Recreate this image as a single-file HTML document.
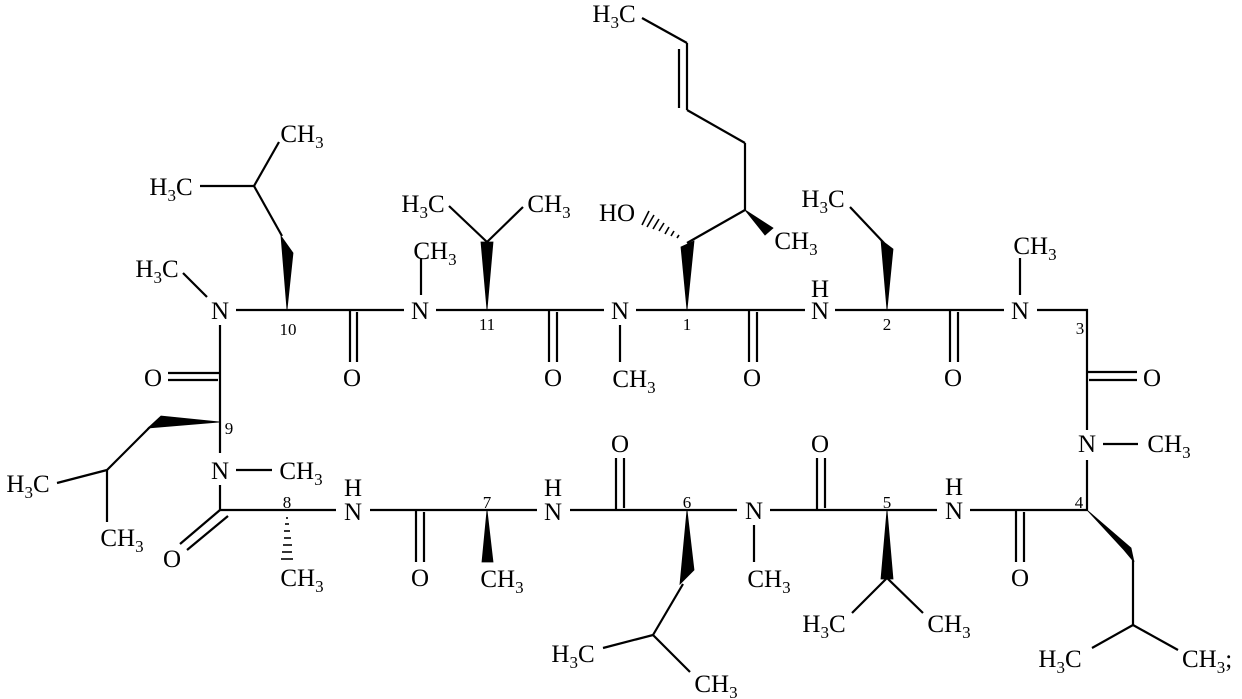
<!DOCTYPE html>
<html><head><meta charset="utf-8"><style>
html,body{margin:0;padding:0;background:#fff;}
svg{display:block;}
text{font-family:"Liberation Serif","DejaVu Serif",serif;font-size:25px;fill:#000;}
.n{font-size:17px;}
</style></head><body>
<svg width="1242" height="699" viewBox="0 0 1242 699" xmlns="http://www.w3.org/2000/svg">
<g stroke="#000" stroke-width="2.2" fill="none" stroke-linecap="butt">
<line x1="236" y1="310" x2="404" y2="310"/>
<line x1="436" y1="310" x2="604" y2="310"/>
<line x1="636" y1="310" x2="805" y2="310"/>
<line x1="835" y1="310" x2="1004" y2="310"/>
<line x1="1037" y1="310" x2="1088" y2="310"/>
<line x1="1087" y1="309" x2="1087" y2="430"/>
<line x1="350" y1="310" x2="350" y2="362"/><line x1="357" y1="312" x2="357" y2="362"/>
<line x1="549" y1="310" x2="549" y2="362"/><line x1="557" y1="312" x2="557" y2="362"/>
<line x1="749" y1="310" x2="749" y2="362"/><line x1="757" y1="312" x2="757" y2="362"/>
<line x1="950" y1="310" x2="950" y2="362"/><line x1="958" y1="312" x2="958" y2="362"/>
<line x1="1087" y1="372" x2="1137" y2="372"/><line x1="1089" y1="380" x2="1137" y2="380"/>
<line x1="183" y1="273" x2="207" y2="297"/>
<line x1="421" y1="258" x2="421" y2="295"/>
<line x1="620" y1="325" x2="620" y2="362"/>
<line x1="1020" y1="258" x2="1020" y2="295"/>
<line x1="1103" y1="444" x2="1138" y2="444"/>
<line x1="1087" y1="460" x2="1087" y2="511"/>
<line x1="236" y1="470" x2="272" y2="470"/>
<line x1="754" y1="525" x2="754" y2="562"/>
<line x1="220" y1="325" x2="220" y2="453"/>
<line x1="168" y1="373" x2="220" y2="373"/><line x1="168" y1="380" x2="218" y2="380"/>
<line x1="220" y1="485" x2="220" y2="511"/>
<line x1="220" y1="510" x2="180" y2="544"/><line x1="228" y1="516" x2="187" y2="550"/>
<line x1="219" y1="510" x2="336" y2="510"/>
<line x1="370" y1="510" x2="537" y2="510"/>
<line x1="570" y1="510" x2="737" y2="510"/>
<line x1="770" y1="510" x2="937" y2="510"/>
<line x1="970" y1="510" x2="1088" y2="510"/>
<line x1="416" y1="510" x2="416" y2="562"/><line x1="424" y1="512" x2="424" y2="562"/>
<line x1="616" y1="458" x2="616" y2="510"/><line x1="624" y1="458" x2="624" y2="508"/>
<line x1="817" y1="458" x2="817" y2="510"/><line x1="825" y1="458" x2="825" y2="508"/>
<line x1="1016" y1="510" x2="1016" y2="562"/><line x1="1024" y1="512" x2="1024" y2="562"/>
<line x1="200" y1="186" x2="254" y2="186"/>
<line x1="254" y1="186" x2="279" y2="142"/>
<line x1="254" y1="186" x2="282" y2="236"/>
<line x1="487" y1="242" x2="449" y2="206"/>
<line x1="487" y1="242" x2="523" y2="207"/>
<line x1="687" y1="243" x2="745" y2="210"/>
<line x1="745" y1="210" x2="745" y2="143"/>
<line x1="745" y1="143" x2="687" y2="110"/>
<line x1="687" y1="110" x2="687" y2="43"/>
<line x1="679" y1="49" x2="679" y2="108"/>
<line x1="687" y1="43" x2="642" y2="18"/>
<line x1="884" y1="243" x2="850" y2="207"/>
<line x1="150" y1="427" x2="107" y2="470"/>
<line x1="107" y1="470" x2="57" y2="483"/>
<line x1="107" y1="470" x2="107" y2="522"/>
<line x1="683" y1="584" x2="653" y2="635"/>
<line x1="653" y1="635" x2="603" y2="648"/>
<line x1="653" y1="635" x2="690" y2="672"/>
<line x1="887" y1="578" x2="852" y2="613"/>
<line x1="887" y1="578" x2="923" y2="613"/>
<line x1="1133" y1="560" x2="1133" y2="625"/>
<line x1="1133" y1="625" x2="1092" y2="648"/>
<line x1="1133" y1="625" x2="1178" y2="650"/>
<g stroke-width="1.6">
<line x1="679" y1="235" x2="677" y2="238"/>
<line x1="674" y1="231" x2="671" y2="236"/>
<line x1="669" y1="227" x2="665" y2="234"/>
<line x1="664" y1="223" x2="659" y2="231"/>
<line x1="659" y1="219" x2="653" y2="229"/>
<line x1="654" y1="215" x2="647" y2="227"/>
<line x1="649" y1="211" x2="642" y2="225"/>
<line x1="286" y1="518" x2="288" y2="518"/>
<line x1="285" y1="524" x2="289" y2="524"/>
<line x1="284" y1="531" x2="290" y2="531"/>
<line x1="284" y1="538" x2="291" y2="538"/>
<line x1="283" y1="545" x2="292" y2="545"/>
<line x1="282" y1="552" x2="292" y2="552"/>
<line x1="281" y1="559" x2="293" y2="559"/>
</g>
</g>
<g fill="#000" stroke="#000" stroke-width="0.8">
<polygon points="287,310 281,236 293,253"/>
<polygon points="487,310 481,242 493,242"/>
<polygon points="687,310 681,247 694,241"/>
<polygon points="745,210 773,228 765,235"/>
<polygon points="887,310 881,240 893,249"/>
<polygon points="220,422 161,416 148,428"/>
<polygon points="487,510 482,562 493,562"/>
<polygon points="687,510 680,584 694,570"/>
<polygon points="887,510 881,579 893,579"/>
<polygon points="1087,510 1124,550 1134,562 1131,548"/>
</g>
<g text-anchor="middle">
<text x="614" y="22">H<tspan font-size="17" dy="6">3</tspan><tspan dy="-6">C</tspan></text>
<text x="302" y="142">CH<tspan font-size="17" dy="6">3</tspan></text>
<text x="171" y="195">H<tspan font-size="17" dy="6">3</tspan><tspan dy="-6">C</tspan></text>
<text x="157" y="277">H<tspan font-size="17" dy="6">3</tspan><tspan dy="-6">C</tspan></text>
<text x="220" y="319">N</text>
<text class="n" x="288" y="335">10</text>
<text x="352" y="386">O</text>
<text x="153" y="386">O</text>
<text class="n" x="229" y="434">9</text>
<text x="28" y="492">H<tspan font-size="17" dy="6">3</tspan><tspan dy="-6">C</tspan></text>
<text x="122" y="546">CH<tspan font-size="17" dy="6">3</tspan></text>
<text x="220" y="479">N</text>
<text x="301" y="479">CH<tspan font-size="17" dy="6">3</tspan></text>
<text x="172" y="567">O</text>
<text class="n" x="287" y="508">8</text>
<text x="302" y="586">CH<tspan font-size="17" dy="6">3</tspan></text>
<text x="353" y="496">H</text><text x="353" y="520">N</text>
<text x="420" y="319">N</text>
<text x="435" y="259">CH<tspan font-size="17" dy="6">3</tspan></text>
<text x="423" y="212">H<tspan font-size="17" dy="6">3</tspan><tspan dy="-6">C</tspan></text>
<text x="549" y="212">CH<tspan font-size="17" dy="6">3</tspan></text>
<text class="n" x="487" y="330">11</text>
<text x="553" y="386">O</text>
<text x="620" y="319">N</text>
<text x="634" y="387">CH<tspan font-size="17" dy="6">3</tspan></text>
<text x="617" y="221">HO</text>
<text class="n" x="687" y="330">1</text>
<text x="752" y="386">O</text>
<text x="796" y="249">CH<tspan font-size="17" dy="6">3</tspan></text>
<text x="823" y="207">H<tspan font-size="17" dy="6">3</tspan><tspan dy="-6">C</tspan></text>
<text x="820" y="297">H</text><text x="820" y="319">N</text>
<text class="n" x="887" y="330">2</text>
<text x="953" y="386">O</text>
<text x="1020" y="319">N</text>
<text x="1035" y="254">CH<tspan font-size="17" dy="6">3</tspan></text>
<text class="n" x="1080" y="334">3</text>
<text x="1152" y="386">O</text>
<text x="1087" y="452">N</text>
<text x="1169" y="452">CH<tspan font-size="17" dy="6">3</tspan></text>
<text class="n" x="1079" y="508">4</text>
<text x="954" y="495">H</text><text x="954" y="519">N</text>
<text x="1020" y="586">O</text>
<text class="n" x="887" y="508">5</text>
<text x="824" y="632">H<tspan font-size="17" dy="6">3</tspan><tspan dy="-6">C</tspan></text>
<text x="949" y="632">CH<tspan font-size="17" dy="6">3</tspan></text>
<text x="1060" y="667">H<tspan font-size="17" dy="6">3</tspan><tspan dy="-6">C</tspan></text>
<text class="n" x="487" y="508">7</text>
<text x="420" y="586">O</text>
<text x="502" y="587">CH<tspan font-size="17" dy="6">3</tspan></text>
<text x="553" y="496">H</text><text x="553" y="520">N</text>
<text x="620" y="452">O</text>
<text class="n" x="687" y="508">6</text>
<text x="754" y="519">N</text>
<text x="769" y="587">CH<tspan font-size="17" dy="6">3</tspan></text>
<text x="820" y="452">O</text>
<text x="573" y="662">H<tspan font-size="17" dy="6">3</tspan><tspan dy="-6">C</tspan></text>
<text x="716" y="692">CH<tspan font-size="17" dy="6">3</tspan></text>
</g>
<text x="1182" y="667">CH<tspan font-size="17" dy="6">3</tspan><tspan dy="-6">;</tspan></text>
</svg>
</body></html>
